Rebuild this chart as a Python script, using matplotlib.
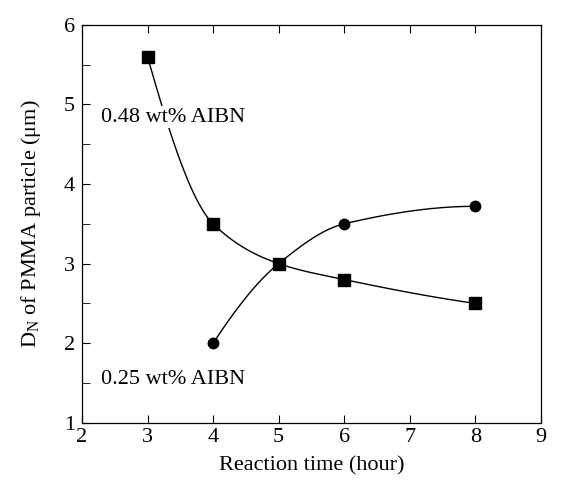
import numpy as np
import matplotlib
matplotlib.use("Agg")
import matplotlib.pyplot as plt

plt.rcParams['font.family'] = ['Liberation Serif', 'DejaVu Serif']
plt.rcParams['mathtext.fontset'] = 'custom'
plt.rcParams['mathtext.rm'] = 'Liberation Serif'
plt.rcParams['mathtext.it'] = 'Liberation Serif:italic'

time_048 = [3, 4, 5, 6, 8]
dn_048 = [5.6, 3.5, 3.0, 2.8, 2.5]
time_025 = [4, 5, 6, 8]
dn_025 = [2.0, 3.0, 3.5, 3.72]
label_048 = "0.48 wt% AIBN"
label_025 = "0.25 wt% AIBN"
xticks = [2, 3, 4, 5, 6, 7, 8, 9]
yticks = [1, 2, 3, 4, 5, 6]


def pchip_curve(x, y, n=300):
    x = np.asarray(x, float)
    y = np.asarray(y, float)
    h = np.diff(x)
    d = np.diff(y) / h
    m = np.zeros_like(y)
    for k in range(1, len(x) - 1):
        if d[k - 1] * d[k] > 0:
            w1 = 2 * h[k] + h[k - 1]
            w2 = h[k] + 2 * h[k - 1]
            m[k] = (w1 + w2) / (w1 / d[k - 1] + w2 / d[k])
        else:
            m[k] = 0.0

    def end(h0, h1, d0, d1):
        v = ((2 * h0 + h1) * d0 - h0 * d1) / (h0 + h1)
        if np.sign(v) != np.sign(d0):
            v = 0.0
        elif np.sign(d0) != np.sign(d1) and abs(v) > abs(3 * d0):
            v = 3 * d0
        return v

    m[0] = end(h[0], h[1], d[0], d[1])
    m[-1] = end(h[-1], h[-2], d[-1], d[-2])
    xs = np.linspace(x[0], x[-1], n)
    idx = np.clip(np.searchsorted(x, xs) - 1, 0, len(x) - 2)
    hh = h[idx]
    t = (xs - x[idx]) / hh
    h00 = 2 * t ** 3 - 3 * t ** 2 + 1
    h10 = t ** 3 - 2 * t ** 2 + t
    h01 = -2 * t ** 3 + 3 * t ** 2
    h11 = t ** 3 - t ** 2
    ys = h00 * y[idx] + h10 * hh * m[idx] + h01 * y[idx + 1] + h11 * hh * m[idx + 1]
    return xs, ys


fig = plt.figure(figsize=(5.73, 4.86), dpi=100)
ax = fig.add_axes([0.143, 0.130, 0.801, 0.819])

xs, ys = pchip_curve(time_048, dn_048)
ax.plot(xs, ys, color='black', lw=1.0, zorder=2)
ax.plot(time_048, dn_048, 's', color='black', ms=8.5, zorder=4)

xs, ys = pchip_curve(time_025, dn_025)
ax.plot(xs, ys, color='black', lw=1.0, zorder=2)
ax.plot(time_025, dn_025, 'o', color='black', ms=7.5, zorder=4)

fs = 16
ax.text(2.29, 4.84, label_048, fontsize=fs, va='center', ha='left', zorder=3,
        bbox=dict(facecolor='white', edgecolor='none', pad=1))
ax.text(2.29, 1.54, label_025, fontsize=fs, va='center', ha='left', zorder=3)

ax.set_xlim(2, 9)
ax.set_ylim(1, 6)
ax.set_xticks(xticks)
ax.set_yticks(yticks)
ax.set_yticks(np.arange(1.5, 6, 1.0), minor=True)
ax.tick_params(axis='both', which='both', direction='in', labelsize=fs)
ax.tick_params(axis='x', which='major', top=True, length=6)
ax.tick_params(axis='y', which='major', length=6, pad=5)
ax.tick_params(axis='y', which='minor', length=6)
for s in ax.spines.values():
    s.set_linewidth(0.9)

ax.set_xlabel("Reaction time (hour)", fontsize=fs, labelpad=7)
ax.set_ylabel(r"D$_\mathregular{N}$ of PMMA particle ($\mathregular{\mu}$m)", fontsize=fs, labelpad=15)

fig.savefig("out.png", dpi=100)
